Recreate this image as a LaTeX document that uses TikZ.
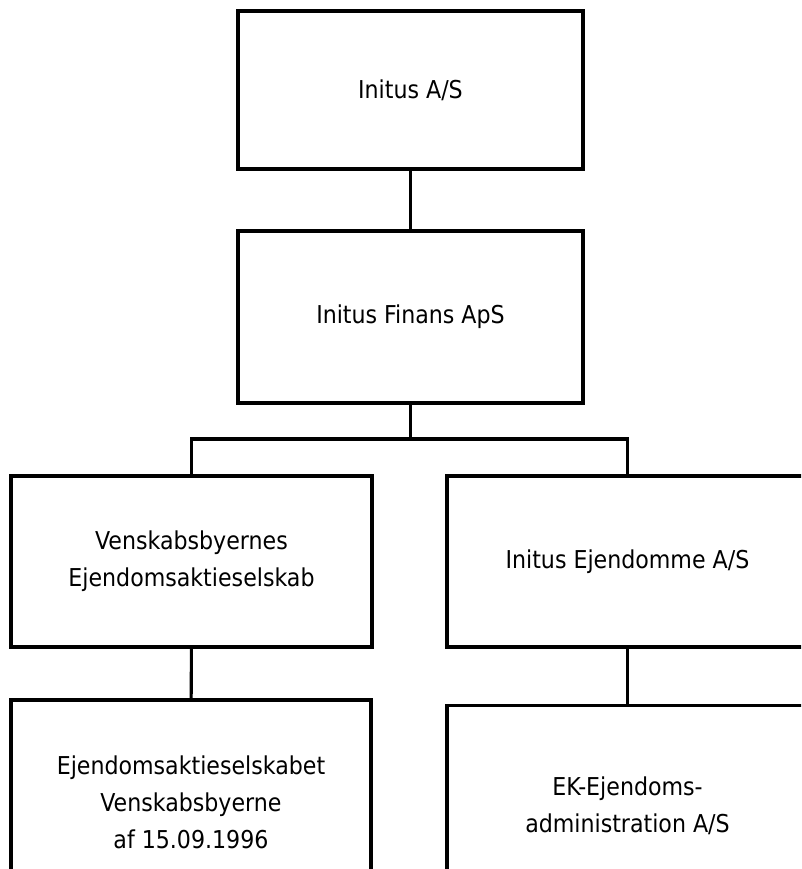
\documentclass[tikz,border=0pt]{standalone}
\usepackage{fontspec}
\setmainfont{DejaVu Sans Condensed}
\usepackage{tikz}

\begin{document}
\begin{tikzpicture}[x=0.03cm, y=-0.03cm,
    firm/.style={draw, line width=2.6pt, align=center, inner sep=0pt,
        font=\fontsize{21}{31.5}\selectfont},
    link/.style={line width=2.6pt}]
    \clip (0, 0) rectangle (801, 869);

    \node[firm, minimum width=10.35cm, minimum height=4.74cm] (initus) at (410.5, 90) {Initus A/S};
    \node[firm, minimum width=10.35cm, minimum height=5.16cm] (finans) at (410.5, 317) {Initus Finans ApS};

    \node[firm, minimum width=10.83cm, minimum height=5.13cm] (venskab) at (191.5, 561.5) {Venskabsbyernes\\Ejendomsaktieselskab};
    \node[firm, minimum width=10.83cm, minimum height=5.13cm] (ejendomme) at (627.5, 561.5) {Initus Ejendomme A/S};

    \node[firm, minimum width=10.8cm, minimum height=6.12cm] (venskabet) at (191, 802) {Ejendomsaktieselskabet\\Venskabsbyerne\\af 15.09.1996};
    \node[firm, minimum width=10.83cm, minimum height=6.03cm] (ekadm) at (627.5, 806) {EK-Ejendoms-\\administration A/S};

    \coordinate (bar) at (410.5, 439);

    \draw[link] (initus) -- (finans);
    \draw[link] (finans) -- (bar);
    \draw[link] (venskab.north) |- (bar) -| (ejendomme.north);
    \draw[link] (venskab) -- (venskabet);
    \draw[link] (ejendomme) -- (ekadm);
\end{tikzpicture}
\end{document}
